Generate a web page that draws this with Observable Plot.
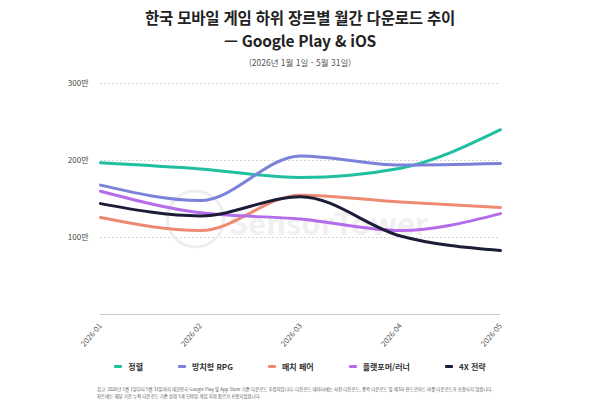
<!DOCTYPE html>
<html lang="ko">
<head>
<meta charset="utf-8">
<script src="https://cdn.jsdelivr.net/npm/d3@7"></script>
<script src="https://cdn.jsdelivr.net/npm/@observablehq/plot@0.6"></script>
<style>
  html, body { margin: 0; padding: 0; background: #fff; }
  body { width: 600px; height: 404px; overflow: hidden; font-family: "Noto Sans CJK KR", "Noto Sans", sans-serif; color: #222; }
  .title { text-align: center; font-weight: 700; font-size: 15.5px; line-height: 23px; margin-top: 6px; letter-spacing: -0.2px; }
  .sub { text-align: center; font-size: 8.5px; color: #555; margin-top: 4px; line-height: 12px; }
  #chart { height: 280px; margin-top: 4px; }
  .legend { display: flex; justify-content: center; gap: 35px; font-size: 8px; font-weight: 700; color: #333; margin-top: 9px; }
  .legend span.item { display: flex; align-items: center; }
  .legend i { display: inline-block; width: 8px; height: 2.5px; margin-right: 6px; border-radius: 1px; }
  .note { margin: 14px 0 0 97px; font-size: 4.4px; line-height: 7px; color: #555; white-space: nowrap; }
</style>
</head>
<body>
<div class="title">한국 모바일 게임 하위 장르별 월간 다운로드 추이<br>— Google Play &amp; iOS</div>
<div class="sub">(2026년 1월 1일 - 5월 31일)</div>
<div id="chart"></div>
<div class="legend" id="legend"></div>
<div class="note">참고: 2026년 1월 1일부터 5월 31일까지 대한민국 Google Play 및 App Store 기준 다운로드 추정치입니다. 다운로드 데이터에는 사전 다운로드, 중복 다운로드 및 제3자 안드로이드 마켓 다운로드가 포함되지 않습니다.<br>차트에는 해당 기간 누적 다운로드 기준 상위 5개 모바일 게임 하위 장르가 포함되었습니다.</div>
<script>
// Months on the x axis
const months = ["2026-01", "2026-02", "2026-03", "2026-04", "2026-05"];

// Genres and their line colours
const genres = ["정렬", "방치형 RPG", "매치 페어", "플랫포머/러너", "4X 전략"];
const colors = ["#1fbf9f", "#7c82d9", "#ef8a72", "#b46cea", "#1c1e38"];

// Monthly downloads (unit: 만)
const sortPuzzle = [197, 189, 178, 190, 240];
const idleRpg    = [168, 148, 206, 194, 196];
const matchPair  = [126, 109, 155, 146, 139];
const platformer = [160, 132, 124, 109, 131];
const strategy4x = [144, 128, 153, 102, 83];

// y-axis ticks
const yTicks = [100, 200, 300];

const seriesValues = [sortPuzzle, idleRpg, matchPair, platformer, strategy4x];
const rows = genres.flatMap((g, i) =>
  months.map((m, j) => ({genre: g, month: m, value: seriesValues[i][j]}))
);

const chart = Plot.plot({
  width: 600,
  height: 280,
  marginTop: 11,
  marginBottom: 38,
  marginLeft: 100,
  marginRight: 100,
  style: {fontFamily: "'Noto Sans CJK KR', sans-serif", fontSize: "8px", color: "#555"},
  x: {type: "point", domain: months, padding: 0, label: null},
  y: {domain: [0, 300], label: null},
  color: {domain: genres, range: colors},
  marks: [
    Plot.ruleY(yTicks, {stroke: "#d6d6d6", strokeDasharray: "2,2", strokeWidth: 1}),
    Plot.ruleY([0], {stroke: "#c8c8c8", strokeWidth: 1}),
    // watermark
    Plot.dot([0], {frameAnchor: "middle", dx: -105, dy: 20, r: 28, stroke: "#eeeeee", strokeWidth: 3, fill: "none"}),
    Plot.text(["SensorTower"], {frameAnchor: "middle", dx: 28, dy: 26, fontSize: 31, fontWeight: 700, fill: "#f0f0f0", text: d => d}),
    Plot.axisY(yTicks, {tickSize: 0, tickPadding: 12, tickFormat: d => d + "만", fontSize: 8, fill: "#444"}),
    Plot.axisX({tickSize: 0, tickPadding: 10, tickRotate: -50, fontSize: 7.5, fill: "#555"}),
    Plot.line(rows, {x: "month", y: "value", z: "genre", stroke: "genre", strokeWidth: 3, curve: "monotone-x"})
  ]
});
document.getElementById("chart").append(chart);

// Legend
const legend = document.getElementById("legend");
genres.forEach((g, i) => {
  const item = document.createElement("span");
  item.className = "item";
  const sw = document.createElement("i");
  sw.style.background = colors[i];
  item.append(sw, document.createTextNode(g));
  legend.append(item);
});
</script>
</body>
</html>
